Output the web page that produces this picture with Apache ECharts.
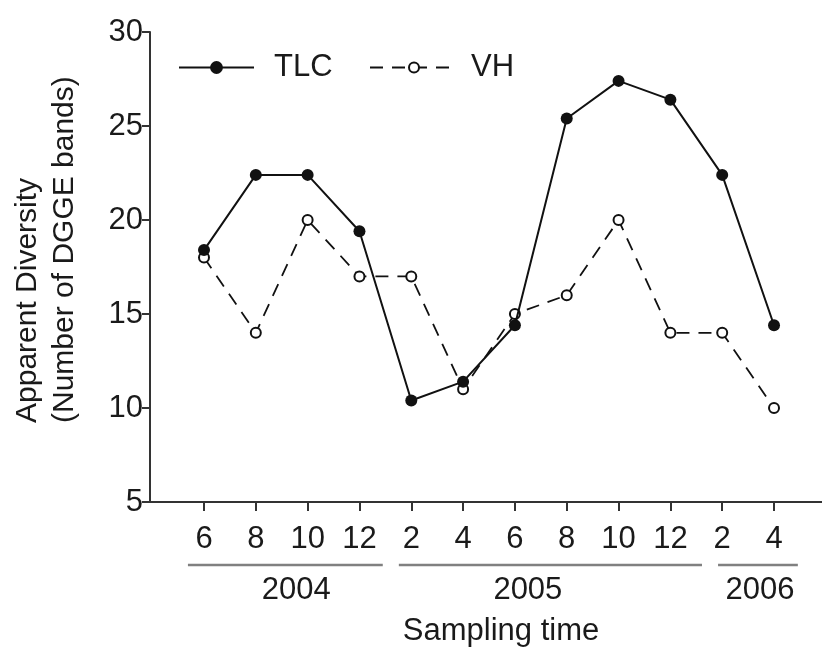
<!DOCTYPE html>
<html><head><meta charset="utf-8">
<script src="https://cdn.jsdelivr.net/npm/echarts@6/dist/echarts.min.js"></script>
<style>html,body{margin:0;padding:0;background:#fff}#c{width:822px;height:652px}</style>
</head><body><div id="c"></div>
<script>
// ---- data ----
const months = ['6','8','10','12','2','4','6','8','10','12','2','4'];
const years = ['2004','2005','2006'];
const tlc = [18.4,22.4,22.4,19.4,10.4,11.4,14.4,25.4,27.4,26.4,22.4,14.4];
const vh  = [18,14,20,17,17,11,15,16,20,14,14,10];
const yTicks = [5,10,15,20,25,30];
const seriesNames = ['TLC','VH'];
const yTitle = ['Apparent Diversity','(Number of DGGE bands)'];
const xTitle = 'Sampling time';
// year group spans in axis (index) units: [lineStart, lineEnd, labelCenter]
const yearSpans = [[-0.31,3.45,1.78],[3.76,9.61,6.25],[9.92,11.46,10.73]];

const FONT = "'Liberation Sans', Arial, Helvetica, sans-serif";
const TXT = '#1a1a1a';
const idx = months.map((m,i)=>i);

const chart = echarts.init(document.getElementById('c'), null, {renderer:'canvas'});
const option = {
  animation:false,
  backgroundColor:'#fff',
  textStyle:{fontFamily:FONT},
  grid:{left:150, top:32, width:672, height:470, containLabel:false},
  legend:[
    {data:[seriesNames[0]], left:178, top:52, padding:0, itemWidth:75, itemHeight:16,
     textStyle:{fontSize:31, color:TXT, fontFamily:FONT, padding:[0,0,0,15]}},
    {data:[seriesNames[1]], left:369, top:52, padding:0, itemWidth:88, itemHeight:12.5,
     textStyle:{fontSize:31, color:TXT, fontFamily:FONT, padding:[0,0,0,8]}}
  ],
  xAxis:{
    type:'value', min:-1.042, max:11.926,
    axisLine:{show:true, onZero:false, lineStyle:{color:'#333', width:2}},
    axisTick:{show:true, length:9, lineStyle:{color:'#333', width:2}, customValues:idx},
    axisLabel:{show:true, customValues:idx, margin:22, fontSize:31, color:TXT, fontFamily:FONT,
      formatter:(v)=>months[Math.round(v)]},
    splitLine:{show:false}
  },
  yAxis:{
    type:'value', min:yTicks[0], max:yTicks[yTicks.length-1], interval:5,
    axisLine:{show:true, onZero:false, lineStyle:{color:'#333', width:2}},
    axisTick:{show:true, length:8, lineStyle:{color:'#333', width:2}},
    axisLabel:{margin:7, fontSize:31, color:TXT, fontFamily:FONT},
    splitLine:{show:false}
  },
  series:[
    {name:seriesNames[1], type:'line', data:vh.map((v,i)=>[i,v]), symbol:'emptyCircle', symbolSize:10,
     z:2,
     lineStyle:{color:'#111', width:1.8, type:[13,9]},
     itemStyle:{color:'#111', borderColor:'#111', borderWidth:1.8}},
    {name:seriesNames[0], type:'line', data:tlc.map((v,i)=>[i,v]), symbol:'circle', symbolSize:12,
     z:3,
     lineStyle:{color:'#111', width:2},
     itemStyle:{color:'#111'}}
  ]
};
chart.setOption(option);

function px(v){ return chart.convertToPixel({xAxisIndex:0}, v); }
const g = [];
yearSpans.forEach((s,i)=>{
  g.push({type:'line', shape:{x1:px(s[0]), y1:565, x2:px(s[1]), y2:565},
    style:{stroke:'#808080', lineWidth:2.5}});
  g.push({type:'text', x:px(s[2]), y:590,
    style:{text:years[i], font:'31px '+FONT, fill:TXT, align:'center', verticalAlign:'middle'}});
});
g.push({type:'text', x:501, y:631,
  style:{text:xTitle, font:'31px '+FONT, fill:TXT, align:'center', verticalAlign:'middle'}});
g.push({type:'text', x:28, y:423, rotation:Math.PI/2,
  style:{text:yTitle[0], font:'30px '+FONT, fill:TXT, align:'left', verticalAlign:'middle'}});
g.push({type:'text', x:65, y:423, rotation:Math.PI/2,
  style:{text:yTitle[1], font:'30px '+FONT, fill:TXT, align:'left', verticalAlign:'middle'}});
chart.setOption({graphic:g});
</script></body></html>
